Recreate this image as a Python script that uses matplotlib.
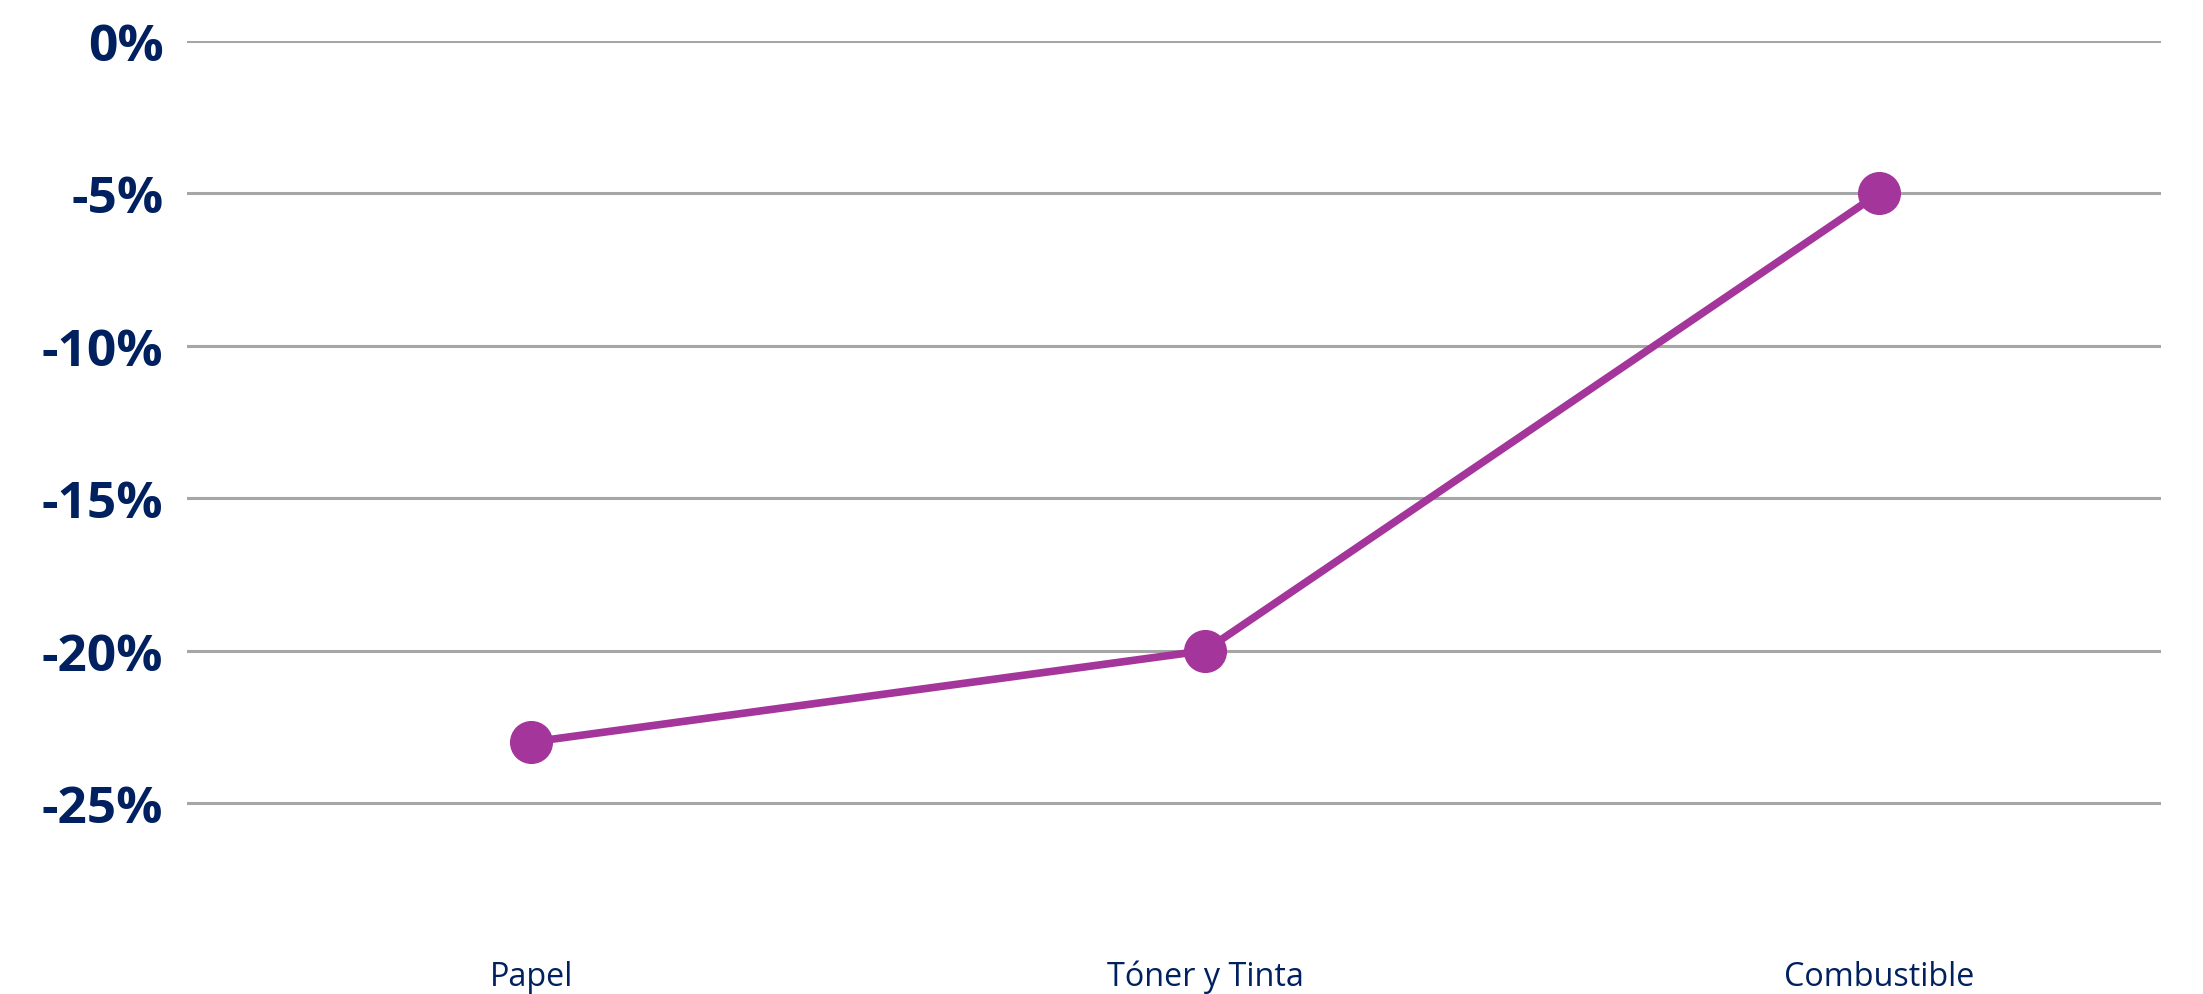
import matplotlib
matplotlib.use('Agg')
import matplotlib.pyplot as plt
from matplotlib.ticker import FuncFormatter

# data
categories = ['Papel', 'Tóner y Tinta', 'Combustible']
values = [-23, -20, -5]
y_ticks = [0, -5, -10, -15, -20, -25]

navy = '#002060'
purple = '#A3359B'
grid_gray = '#A6A6A6'

fig = plt.figure(figsize=(22.03, 9.95), dpi=100)
ax = fig.add_axes([0.0849, 0.0388, 0.8961, 0.919])

x = list(range(len(categories)))
ax.plot(x, values, color=purple, lw=5.5, marker='o', ms=30, zorder=3)

ax.set_ylim(-30, 0)
ax.set_xlim(-0.511, 2.419)
ax.set_yticks(y_ticks)
ax.yaxis.set_major_formatter(FuncFormatter(lambda v, p: f'{v:.0f}%'))
ax.set_xticks(x)
ax.set_xticklabels(categories)

for v in y_ticks:
    ax.axhline(v, color=grid_gray, lw=2.2, zorder=1)

for s in ax.spines.values():
    s.set_visible(False)
ax.tick_params(axis='both', length=0)
ax.tick_params(axis='y', pad=17)
ax.tick_params(axis='x', pad=3)

for lab in ax.get_yticklabels():
    lab.set_fontfamily('Open Sans')
    lab.set_fontweight('bold')
    lab.set_fontsize(37)
    lab.set_color(navy)
for lab in ax.get_xticklabels():
    lab.set_fontfamily('Open Sans')
    lab.set_fontsize(23.3)
    lab.set_color(navy)

plt.savefig('out.png', dpi=100)
